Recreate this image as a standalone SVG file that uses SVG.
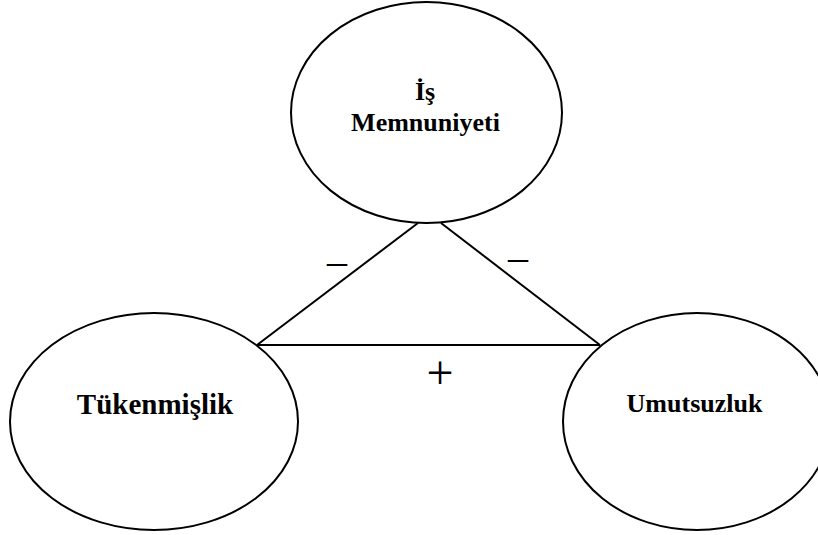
<svg xmlns="http://www.w3.org/2000/svg" width="818" height="535" viewBox="0 0 818 535">
<style>
.node{fill:#fff;stroke:#000;stroke-width:2}
.lbl{font-family:"Liberation Serif","Times New Roman",serif;font-weight:bold;fill:#000;text-anchor:middle}
.edge{stroke:#000;stroke-width:2;fill:none}
.sign{font-family:"Liberation Serif","Times New Roman",serif;fill:#000;text-anchor:middle}
</style>
<rect width="818" height="535" fill="#fff"/>
<g id="connectors">
<line class="edge" x1="418" y1="223" x2="257" y2="345"/>
<line class="edge" x1="441" y1="223" x2="600" y2="345"/>
<line class="edge" x1="257" y1="345" x2="600" y2="345"/>
<text class="sign" x="337" y="274" font-size="40">–</text>
<text class="sign" x="518" y="270" font-size="40">–</text>
<text class="sign" x="440" y="389" font-size="48">+</text>
</g>
<g id="is-memnuniyeti">
<ellipse class="node" cx="426.5" cy="112.5" rx="135.5" ry="110.5"/>
<text class="lbl" x="425" y="100" font-size="26">İş</text>
<text class="lbl" x="425.5" y="131" font-size="26">Memnuniyeti</text>
</g>
<g id="tukenmislik">
<ellipse class="node" cx="154" cy="421.5" rx="144" ry="108.5"/>
<text class="lbl" x="155" y="414" font-size="29">Tükenmişlik</text>
</g>
<g id="umutsuzluk">
<ellipse class="node" cx="697" cy="421.5" rx="134" ry="108.5"/>
<text class="lbl" x="694.5" y="412" font-size="26">Umutsuzluk</text>
</g>
</svg>
